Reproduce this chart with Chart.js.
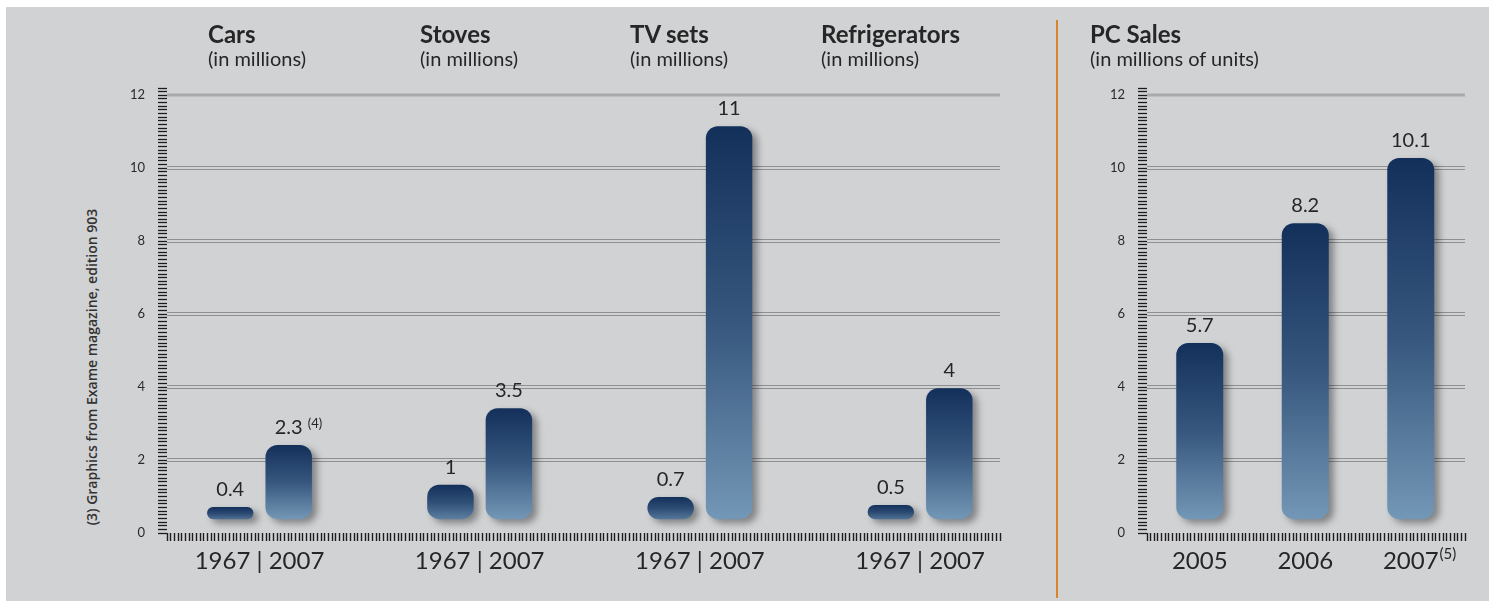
<!DOCTYPE html>
<html>
<head>
<meta charset="utf-8">
<title>Cars, stoves, TV sets, refrigerators and PC sales</title>
<script src="https://cdn.jsdelivr.net/npm/chart.js@4.4.0/dist/chart.umd.min.js"></script>
<style>
    body {
        margin: 0;
        width: 1489px;
        height: 601px;
        background: #ffffff;
        position: relative;
        overflow: hidden;
        font-family: Lato, sans-serif;
    }
    #panel {
        position: absolute;
        left: 6px;
        top: 7px;
        width: 1483px;
        height: 594px;
        background: #d1d2d4;
    }
    #divider {
        position: absolute;
        left: 1056px;
        top: 20px;
        width: 2px;
        height: 578px;
        background: #d8842b;
    }
    canvas {
        position: absolute;
        top: 0;
    }
    #leftChart { left: 0; }
    #rightChart { left: 1060px; }
    .title {
        position: absolute;
        top: 22px;
        color: #262626;
        white-space: nowrap;
    }
    .title b {
        display: block;
        font: 700 24px Lato, sans-serif;
        line-height: 24px;
    }
    .title span {
        display: block;
        font: 400 20px Lato, sans-serif;
        line-height: 24px;
    }
    #source {
        position: absolute;
        left: 91px;
        top: 367px;
        transform: translate(-50%, -50%) rotate(-90deg);
        font: 600 14px "Open Sans", sans-serif;
        color: #333333;
        white-space: nowrap;
    }
</style>
</head>
<body>
<div id="panel"></div>
<div id="divider"></div>
<div id="source"></div>
<canvas id="leftChart" width="1050" height="601"></canvas>
<canvas id="rightChart" width="429" height="601"></canvas>

<script>
// Durable goods, 1967 vs 2007
const groupTitles = ['Cars', 'Stoves', 'TV  sets', 'Refrigerators'];
const groupUnit = '(in millions)';
const pairLabels = ['1967 | 2007', '1967 | 2007', '1967 | 2007', '1967 | 2007'];
const values1967 = [0.4, 1, 0.7, 0.5];
const values2007 = [2.3, 3.5, 11, 4];
const notes2007 = ['(4)', '', '', ''];

// the original graphic is not drawn to scale: bar ends as they appear
const barBase = 0.38;
const drawn1967 = [0.71, 1.32, 0.99, 0.77];
const drawn2007 = [2.41, 3.42, 11.15, 3.97];

// PC sales
const pcTitle = 'PC Sales';
const pcUnit = '(in millions of units)';
const pcYears = ['2005', '2006', '2007'];
const pcNotes = ['', '', '(5)'];
const pcValues = [5.7, 8.2, 10.1];
const pcDrawn = [5.21, 8.49, 10.28];

const yLabels = [0, 2, 4, 6, 8, 10, 12];
const sourceNote = '(3) Graphics from Exame magazine, edition 903';

// left edge of each heading, in page pixels
const titleLeft = [208, 420, 630, 821];
const pcTitleLeft = 1090;

function isWhole(v) {
    return Math.abs(v - Math.round(v)) < 1e-6;
}

function hexToRgb(h) {
    return [1, 3, 5].map(function (i) { return parseInt(h.substr(i, 2), 16); });
}

function mix(a, b, t) {
    var ca = hexToRgb(a), cb = hexToRgb(b);
    var c = ca.map(function (v, i) { return Math.round(v + (cb[i] - v) * t); });
    return 'rgb(' + c.join(',') + ')';
}

// vertical gradient, one per bar
function barFill(c) {
    var chart = c.chart;
    if (!chart.chartArea || !c.raw || !c.raw.y) {
        return '#2a4a74';
    }
    var y = chart.scales.y;
    var top = y.getPixelForValue(c.raw.y[1]);
    var bottom = y.getPixelForValue(c.raw.y[0]);
    var h = bottom - top;
    var t = Math.min(1, 0.55 + h / 160);
    var g = chart.ctx.createLinearGradient(0, top, 0, bottom);
    g.addColorStop(0, '#13305b');
    g.addColorStop(0.5, mix('#13305b', '#7397b6', t * 0.38));
    g.addColorStop(1, mix('#13305b', '#7397b6', t));
    return g;
}

// grid lines, bar shadows, value labels and footnote marks
const decor = {
    id: 'decor',
    beforeDatasetsDraw: function (chart) {
        var ctx = chart.ctx;
        var a = chart.chartArea;
        var y = chart.scales.y;
        var w = a.right - a.left;
        ctx.save();
        yLabels.forEach(function (v, i) {
            if (v === 0) return;
            var py = Math.round(y.getPixelForValue(v));
            if (i === yLabels.length - 1) {
                ctx.fillStyle = '#a9aaac';
                ctx.fillRect(a.left, py - 1.5, w, 3);
            } else {
                ctx.fillStyle = '#8e8f91';
                ctx.fillRect(a.left, py - 2, w, 1);
                ctx.fillRect(a.left, py + 1, w, 1);
            }
        });
        ctx.restore();

        ctx.save();
        ctx.shadowColor = 'rgba(0, 0, 0, 0.38)';
        ctx.shadowBlur = 7;
        ctx.shadowOffsetX = 5;
        ctx.shadowOffsetY = 4;
    },
    afterDatasetsDraw: function (chart) {
        var ctx = chart.ctx;
        ctx.restore();

        ctx.save();
        ctx.fillStyle = '#262626';
        ctx.textBaseline = 'alphabetic';
        chart.data.datasets.forEach(function (ds, di) {
            var meta = chart.getDatasetMeta(di);
            meta.data.forEach(function (el, i) {
                var txt = String(ds.valueLabels[i]);
                ctx.font = '400 20px Lato';
                ctx.textAlign = 'center';
                ctx.fillText(txt, el.x, el.y - 11);
                var note = ds.notes ? ds.notes[i] : '';
                if (note) {
                    var tw = ctx.measureText(txt).width;
                    ctx.font = '400 13px Lato';
                    ctx.textAlign = 'left';
                    ctx.fillText(note, el.x + tw / 2 + 5, el.y - 17);
                }
            });
        });

        var xs = chart.scales.x;
        var notes = chart.options.plugins.decor.axisNotes || [];
        var names = chart.options.plugins.decor.axisLabels || [];
        notes.forEach(function (note, i) {
            if (!note) return;
            ctx.font = '400 24px Lato';
            var lw = ctx.measureText(names[i]).width;
            ctx.font = '400 15px Lato';
            ctx.textAlign = 'left';
            ctx.fillText(note, xs.getPixelForValue(i) + lw / 2 + 1, xs.top + 17);
        });
        ctx.restore();
    }
};

function buildOptions(cfg) {
    return {
        responsive: false,
        animation: false,
        events: [],
        layout: { padding: { left: 0, right: cfg.padRight, top: 88, bottom: 0 } },
        plugins: {
            legend: { display: false },
            tooltip: { enabled: false },
            decor: { axisNotes: cfg.axisNotes, axisLabels: cfg.axisLabels }
        },
        scales: {
            x: {
                type: 'linear',
                position: 'bottom',
                weight: 1,
                offset: false,
                bounds: 'data',
                min: cfg.xMin,
                max: cfg.xMax,
                grid: { display: false, drawTicks: false, offset: false },
                border: { display: false },
                // one tick per group, at 0, 1, 2 ...
                afterBuildTicks: function (s) {
                    s.ticks = cfg.axisLabels.map(function (l, i) { return { value: i }; });
                },
                ticks: {
                    autoSkip: false,
                    maxRotation: 0,
                    padding: 5,
                    color: '#262626',
                    font: { family: 'Lato', size: 24 },
                    callback: function (v) {
                        return cfg.axisLabels[Math.round(v)] || '';
                    }
                },
                afterFit: function (s) { s.height = 59; }
            },
            ruler: {
                type: 'linear',
                axis: 'x',
                position: 'bottom',
                weight: 0,
                offset: false,
                min: 0,
                max: cfg.rulerSteps,
                grid: {
                    drawOnChartArea: false,
                    offset: false,
                    tickLength: 8,
                    tickColor: '#1c1c1c',
                    tickWidth: 1.4
                },
                border: { display: false },
                ticks: { display: false, stepSize: 1 },
                afterFit: function (s) { s.height = 9; }
            },
            y: {
                type: 'linear',
                position: 'left',
                min: 0,
                max: 12.2,
                grid: {
                    drawOnChartArea: false,
                    tickLength: 9,
                    tickColor: '#1c1c1c',
                    tickWidth: 1.3
                },
                border: { display: false },
                ticks: {
                    stepSize: 0.1,
                    autoSkip: false,
                    padding: 13,
                    color: '#2a2a2a',
                    font: { family: 'Lato', size: 13 },
                    callback: function (v) {
                        var r = Math.round(v);
                        return isWhole(v) && yLabels.indexOf(r) !== -1 ? String(r) : '';
                    }
                },
                afterFit: function (s) { s.width = cfg.axisWidth; }
            }
        }
    };
}

function barDataset(drawn, values, notes, cfg) {
    return {
        data: drawn.map(function (top, i) { return { x: i, y: [barBase, top] }; }),
        valueLabels: values,
        notes: notes,
        backgroundColor: barFill,
        borderWidth: 0,
        borderSkipped: false,
        borderRadius: 12,
        categoryPercentage: cfg.catPct,
        barPercentage: cfg.barPct
    };
}

function addTitle(text, unit, left) {
    var div = document.createElement('div');
    div.className = 'title';
    div.style.left = left + 'px';
    var b = document.createElement('b');
    b.textContent = text;
    var s = document.createElement('span');
    s.textContent = unit;
    div.appendChild(b);
    div.appendChild(s);
    document.body.appendChild(div);
}

function drawCharts() {
    Chart.defaults.font.family = 'Lato';

    groupTitles.forEach(function (t, i) { addTitle(t, groupUnit, titleLeft[i]); });
    addTitle(pcTitle, pcUnit, pcTitleLeft);
    document.getElementById('source').textContent = sourceNote;

    var leftCfg = {
        padRight: 50, axisWidth: 167,
        xMin: -0.42, xMax: 3.363, rulerSteps: 227,
        axisLabels: pairLabels, axisNotes: [],
        catPct: 0.531, barPct: 0.795
    };
    new Chart(document.getElementById('leftChart'), {
        type: 'bar',
        data: {
            datasets: [
                barDataset(drawn1967, values1967, [], leftCfg),
                barDataset(drawn2007, values2007, notes2007, leftCfg)
            ]
        },
        options: buildOptions(leftCfg),
        plugins: [decor]
    });

    var rightCfg = {
        padRight: 24, axisWidth: 87,
        xMin: -0.5, xMax: 2.514, rulerSteps: 87,
        axisLabels: pcYears, axisNotes: pcNotes,
        catPct: 0.9, barPct: 0.495
    };
    new Chart(document.getElementById('rightChart'), {
        type: 'bar',
        data: {
            datasets: [barDataset(pcDrawn, pcValues, [], rightCfg)]
        },
        options: buildOptions(rightCfg),
        plugins: [decor]
    });
}

document.addEventListener('DOMContentLoaded', function () {
    Promise.all([
        document.fonts.load('400 20px Lato'),
        document.fonts.load('700 24px Lato'),
        document.fonts.load('600 14px "Open Sans"')
    ]).then(drawCharts, drawCharts);
});
</script>
</body>
</html>
